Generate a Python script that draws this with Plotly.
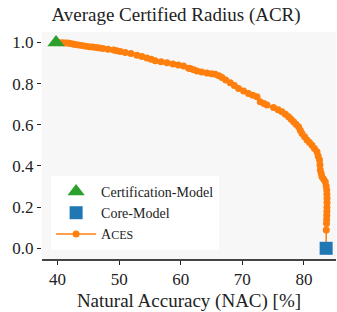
import plotly.graph_objects as go

# --- data ---
cert_nac = [39.75]
cert_acr = [1.0]
core_nac = [83.6]
core_acr = [0.0]
aces_nac = [39.8, 40.3, 40.8, 41.25, 41.7, 42.06, 42.5, 42.87, 43.4, 43.96, 44.6, 45.19, 45.7,
            46.28, 46.8, 47.37, 48.2, 49.09, 49.6, 50.18, 50.99, 51.92, 52.89, 53.7, 54.51,
            55.2, 55.86, 56.8, 57.76, 58.73, 59.6, 60.45, 61.27, 61.54, 62.1, 62.63, 63.4,
            64.25, 65.0, 65.6, 66.2, 66.69, 67.3, 68.04, 68.7, 69.38, 70.2, 71.0, 71.7, 72.37,
            72.9, 73.5, 74.0, 75.06, 75.8, 76.43, 77.0, 77.5, 77.9, 78.31, 78.7, 79.12, 79.4,
            79.68, 80.1, 80.49, 80.9, 81.3, 81.7, 82.11, 82.3, 82.53, 82.6, 82.65, 82.8, 82.92,
            83.2, 83.46, 83.6, 83.7, 83.72, 83.74, 83.74, 83.73, 83.72, 83.7, 83.68, 83.66,
            83.62, 83.6]
aces_acr = [1.0, 0.999, 0.999, 0.998, 0.997, 0.995, 0.993, 0.990, 0.988, 0.985, 0.982, 0.979,
            0.978, 0.976, 0.973, 0.971, 0.967, 0.963, 0.960, 0.956, 0.951, 0.947, 0.938, 0.932,
            0.925, 0.918, 0.911, 0.906, 0.901, 0.895, 0.891, 0.886, 0.875, 0.874, 0.868, 0.862,
            0.857, 0.852, 0.848, 0.846, 0.838, 0.830, 0.818, 0.804, 0.791, 0.777, 0.764, 0.752,
            0.744, 0.736, 0.712, 0.704, 0.696, 0.684, 0.673, 0.663, 0.651, 0.639, 0.627, 0.615,
            0.603, 0.590, 0.574, 0.558, 0.542, 0.526, 0.514, 0.501, 0.485, 0.469, 0.449, 0.429,
            0.405, 0.380, 0.364, 0.348, 0.335, 0.323, 0.303, 0.283, 0.263, 0.243, 0.222, 0.200,
            0.180, 0.160, 0.140, 0.120, 0.089, 0.0]
x_ticks = [40, 50, 60, 70, 80]
y_ticks = [0.0, 0.2, 0.4, 0.6, 0.8, 1.0]
y_tick_labels = ["0.0", "0.2", "0.4", "0.6", "0.8", "1.0"]

FONT = '"Liberation Serif", "DejaVu Serif", "Times New Roman", serif'
fig = go.Figure()
fig.add_trace(go.Scatter(x=aces_nac, y=aces_acr, mode="lines+markers",
                         name="A<span style='font-size:12px'>CES</span>", legendrank=3,
                         line=dict(color="#ff7f0e", width=1.5),
                         marker=dict(color="#ff7f0e", size=7, line=dict(width=0))))
fig.add_trace(go.Scatter(x=cert_nac, y=cert_acr, mode="markers", name="Certification-Model",
                         legendrank=1,
                         marker=dict(symbol="triangle-up", color="#2ca02c", size=15, line=dict(width=0))))
fig.add_trace(go.Scatter(x=core_nac, y=core_acr, mode="markers", name="Core-Model",
                         legendrank=2,
                         marker=dict(symbol="square", color="#1f77b4", size=13, line=dict(width=0))))

fig.update_layout(
    width=337, height=312,
    margin=dict(l=42, r=1, t=32, b=53),
    paper_bgcolor="white", plot_bgcolor="#f7f7f7",
    font=dict(family=FONT, size=17, color="#222222"),
    title=dict(text="Average Certified Radius (ACR)", x=176/337, xanchor="center",
               y=1 - 14/312, yanchor="middle", font=dict(size=19, family=FONT, color="#222222")),
    showlegend=True,
    legend=dict(x=0.031, y=0.04, xanchor="left", yanchor="bottom", bgcolor="white",
                font=dict(size=14, family=FONT, color="#222222"),
                itemwidth=40, tracegroupgap=0),
    xaxis=dict(range=[37.47, 85.2], tickvals=x_ticks, showgrid=False, zeroline=False,
               showline=True, linecolor="#444444", linewidth=2, ticks="outside",
               ticklen=4, tickcolor="#222222", tickwidth=1, mirror=False,
               title=dict(text="Natural Accuracy (NAC) [%]", standoff=6,
                          font=dict(size=19, family=FONT))),
    yaxis=dict(range=[-0.052, 1.051], tickvals=y_ticks, ticktext=y_tick_labels,
               showgrid=False, zeroline=False, showline=False, ticks="outside",
               ticklen=4, tickcolor="#222222", tickwidth=1),
)
fig.write_html("out.html", post_script="document.body.style.margin='0';",
               config={"displayModeBar": False})
